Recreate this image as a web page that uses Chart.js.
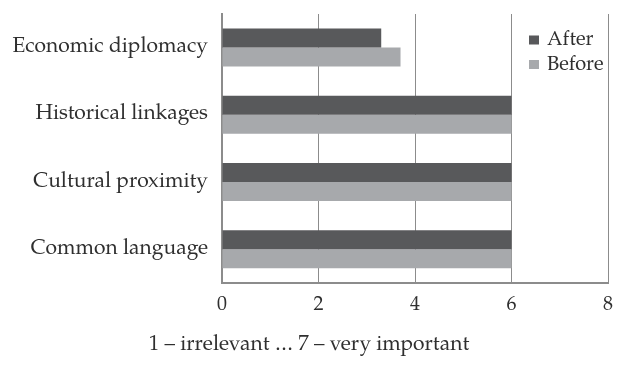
<!DOCTYPE html>
<html><head><meta charset="utf-8">
<script src="https://cdn.jsdelivr.net/npm/chart.js@4"></script>
<style>html,body{margin:0;padding:0;background:#fff;}#wrap{width:627px;height:372px;}</style>
</head><body><div id="wrap"><canvas id="c" width="627" height="372"></canvas></div>
<script>
const categories = ["Economic diplomacy", "Historical linkages", "Cultural proximity", "Common language"];
const afterValues = [3.3, 6, 6, 6];
const beforeValues = [3.7, 6, 6, 6];
const seriesNames = ["After", "Before"];
const xTicks = [0, 2, 4, 6, 8];
const axisTitle = "1 – irrelevant … 7 – very important";

const FONT = "'TeX Gyre Pagella', 'Liberation Serif', serif";
const TEXT = "#2f2f2f";

const legendPlugin = {
  id: 'customLegend',
  afterDraw(chart) {
    const ctx = chart.ctx;
    ctx.save();
    ctx.font = "20px " + FONT;
    ctx.textBaseline = "middle";
    chart.data.datasets.forEach((ds, i) => {
      const y = 40 + i * 24.5;
      ctx.fillStyle = ds.backgroundColor;
      ctx.fillRect(529, y - 4.5, 10, 9);
      ctx.fillStyle = TEXT;
      ctx.fillText(ds.label, 547, y + 1);
    });
    ctx.restore();
  }
};

new Chart(document.getElementById('c'), {
  type: 'bar',
  data: {
    labels: categories,
    datasets: [
      { label: seriesNames[0], data: afterValues, backgroundColor: "#58595b" },
      { label: seriesNames[1], data: beforeValues, backgroundColor: "#a7a9ac" }
    ]
  },
  options: {
    indexAxis: 'y',
    responsive: false,
    animation: false,
    devicePixelRatio: 1,
    layout: { padding: { top: 14, right: 19, left: 10, bottom: 0 } },
    datasets: { bar: { categoryPercentage: 0.565, barPercentage: 1.0 } },
    plugins: {
      legend: { display: false },
      tooltip: { enabled: false },
      title: {
        display: true, position: 'bottom', text: axisTitle, color: TEXT,
        font: { family: FONT, size: 21, weight: 'normal' }, padding: { top: 0, bottom: 14 }
      }
    },
    scales: {
      x: {
        min: 0, max: 8,
        afterBuildTicks(scale) { scale.ticks = xTicks.map(v => ({ value: v })); },
        afterFit(scale) { scale.height = 50; scale.paddingLeft = 0; scale.paddingRight = 0; },
        grid: { color: "#8c8c8c", lineWidth: 1, drawTicks: false },
        border: { display: true, color: "#8c8c8c", width: 2 },
        ticks: { color: TEXT, font: { family: FONT, size: 20 }, padding: 11 }
      },
      y: {
        afterFit(scale) { scale.width = 212; scale.paddingTop = 0; scale.paddingBottom = 0; },
        grid: { display: false, drawTicks: false },
        border: { display: true, color: "#8c8c8c", width: 2 },
        ticks: { color: TEXT, font: { family: FONT, size: 21 }, padding: 14 }
      }
    }
  },
  plugins: [legendPlugin]
});
</script></body></html>
